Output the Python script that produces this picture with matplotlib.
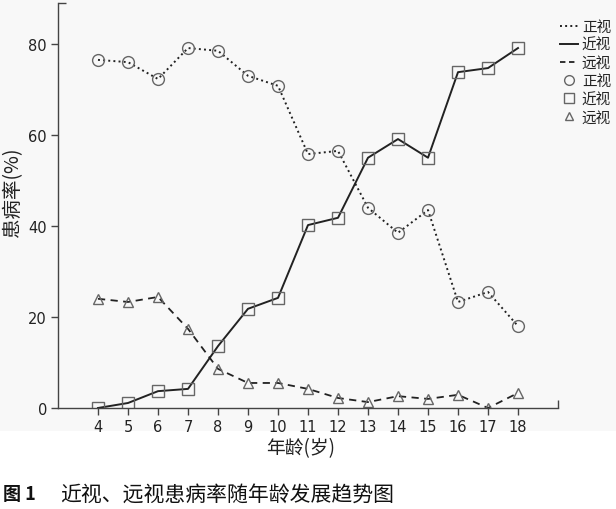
import matplotlib
matplotlib.use('Agg')
import matplotlib.pyplot as plt
from matplotlib.lines import Line2D
from matplotlib.patches import Rectangle

plt.rcParams['font.family'] = ['Noto Sans CJK SC', 'DejaVu Sans']

ages = [4, 5, 6, 7, 8, 9, 10, 11, 12, 13, 14, 15, 16, 17, 18]
normal = [76.5, 76.0, 72.3, 79.1, 78.5, 73.0, 70.8, 55.8, 56.5, 44.0, 38.5, 43.5, 23.3, 25.5, 18.0]
myopia = [0.0, 1.1, 3.7, 4.2, 13.6, 21.8, 24.2, 40.2, 41.8, 55.0, 59.1, 55.0, 73.8, 74.7, 79.1]
hyperopia = [24.0, 23.3, 24.4, 17.4, 8.6, 5.5, 5.5, 4.2, 2.2, 1.3, 2.6, 2.0, 2.9, 0.0, 3.3]
yticks = [0, 20, 40, 60, 80]
labels = ['正视', '近视', '远视']

W, H = 616, 510
fig = plt.figure(figsize=(W / 100, H / 100), dpi=100)
fig.patches.append(Rectangle((0, 1 - 432 / H), 1, 432 / H, transform=fig.transFigure,
                             facecolor='#f8f8f8', edgecolor='none', zorder=-10))
ax = fig.add_axes([58 / W, 1 - 409 / H, 500 / W, 405 / H])
ax.set_facecolor('none')

line_c = '#222222'
mk_c = '#666666'
ax.plot(ages, normal, ':', color=line_c, lw=1.4)
ax.plot(ages, myopia, '-', color=line_c, lw=1.4)
ax.plot(ages, hyperopia, '--', color=line_c, lw=1.3, dashes=(4, 3))
ax.plot(ages, normal, 'o', ms=8.5, mfc='none', mec=mk_c, mew=1.0, linestyle='none')
ax.plot(ages, myopia, 's', ms=8.5, mfc='none', mec=mk_c, mew=1.0, linestyle='none')
ax.plot(ages, hyperopia, '^', ms=7, mfc='none', mec=mk_c, mew=1.0, linestyle='none')

ax.set_xlim(2.667, 19.333)
ax.set_ylim(0, 89)
ax.set_xticks(ages)
ax.set_yticks(yticks)
ax.set_xticklabels([str(a) for a in ages], fontfamily='DejaVu Sans', fontsize=10.5, color='#222222')
ax.set_yticklabels([str(v) for v in yticks], fontfamily='DejaVu Sans', fontsize=10.5, color='#222222')
ax.tick_params(direction='out', length=5, width=1, color='#444444', pad=3)
ax.set_xticks([19.333], minor=True)
ax.set_yticks([89], minor=True)
ax.tick_params(which='minor', direction='in', length=6, width=1, color='#444444')
for s in ['top', 'right']:
    ax.spines[s].set_visible(False)
for s in ['left', 'bottom']:
    ax.spines[s].set_color('#444444')
    ax.spines[s].set_linewidth(1.0)

fig.text(13 / W, 1 - 192 / H, '患病率(%)', rotation=90, ha='center', va='center',
         fontsize=14, color='#222222')
fig.text(301 / W, 1 - 449 / H, '年龄(岁)', ha='center', va='center',
         fontsize=13.5, color='#222222')
fig.text(3 / W, 1 - 495 / H, '图 1', ha='left', va='center', fontsize=13,
         fontweight='bold', color='#111111')
fig.text(60 / W, 1 - 495 / H, '近视、远视患病率随年龄发展趋势图', ha='left', va='center',
         fontsize=15, color='#111111')

handles = [
    Line2D([], [], color=line_c, ls=':', lw=1.4),
    Line2D([], [], color=line_c, ls='-', lw=1.4),
    Line2D([], [], color=line_c, ls='--', lw=1.3, dashes=(3, 2)),
    Line2D([], [], color=mk_c, marker='o', ls='none', ms=7, mfc='none'),
    Line2D([], [], color=mk_c, marker='s', ls='none', ms=7, mfc='none'),
    Line2D([], [], color=mk_c, marker='^', ls='none', ms=6, mfc='none'),
]
fig.legend(handles, labels + labels, loc='upper left', bbox_to_anchor=(560 / W, 1 - 21 / H),
           frameon=False, fontsize=10.5, handlelength=1.2, handletextpad=0.3,
           labelspacing=0.28, borderpad=0, borderaxespad=0, labelcolor='#222222')

fig.savefig('out.png', dpi=100)
